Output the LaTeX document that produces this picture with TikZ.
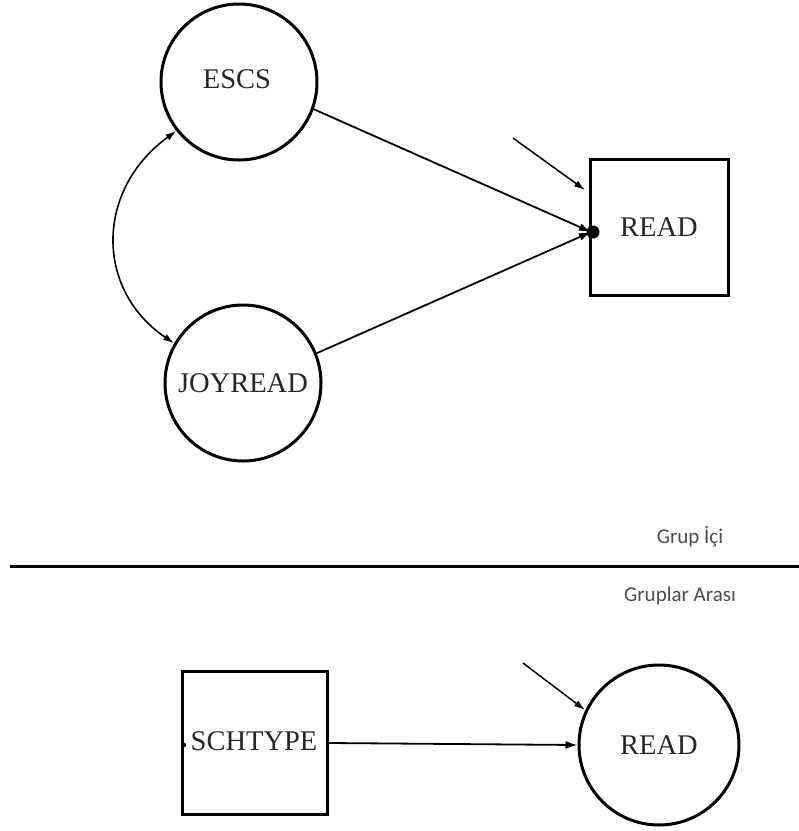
\documentclass[tikz,border=0pt]{standalone}
\usepackage{fontspec}
\setmainfont{Liberation Serif}
\newfontfamily\labfont{Carlito}
\usetikzlibrary{arrows.meta}
\begin{document}
\begin{tikzpicture}[x=1pt,y=-1pt,
  nodefont/.style={font=\fontsize{28.5}{30}\selectfont,text=black!85},
  var/.style={draw,line width=3pt,circle,minimum size=156pt,inner sep=0pt,nodefont},
  obs/.style={draw,line width=3pt,rectangle,inner sep=0pt,nodefont},
  arr/.style={line width=1.8pt,-{Latex[length=12pt,width=8pt]}},
  resid/.style={line width=1.5pt,-{Latex[length=11pt,width=7pt]}},
  lab/.style={font=\labfont\fontsize{21}{24}\selectfont,text=black!70}]
\useasboundingbox (0,0) rectangle (799,831);
% top part
\node[var] (escs) at (239,82) {};
\node[nodefont] (escst) at (237,79) {ESCS};
\node[var] (joy) at (243,383) {JOYREAD};
\node[obs,minimum width=138pt,minimum height=136pt] (read1) at (659,227) {READ};
\fill (593,232) circle (6.5pt);
\coordinate (dot) at (591,232);
\draw[arr] (escs.-20) -- (dot);
\draw[arr] (joy.22) -- (dot);
\coordinate (r1s) at (513,138);
\coordinate (r1e) at (585,190);
\draw[resid] (r1s) -- (r1e);
\draw[line width=1.6pt,{Latex[length=11pt,width=7pt]}-{Latex[length=11pt,width=7pt]}] (escs.218) .. controls (95,190) and (95,290) .. (joy.150);
% separator
\coordinate (la) at (10,566);
\coordinate (lb) at (799,566);
\draw[line width=3pt] (la) -- (lb);
\node[lab] (gi) at (690,537) {Grup İçi};
\node[lab] (ga) at (680,596) {Gruplar Arası};
% bottom part
\node[obs,minimum width=145pt,minimum height=143pt] (sch) at (255,743) {};
\node[nodefont] (scht) at (254,741) {SCHTYPE};
\fill (184,745) circle (2.2pt);
\node[var,minimum size=160pt] (read2) at (659,745) {READ};
\draw[arr] (sch.east) -- (read2.west);
\coordinate (r2s) at (523,663);
\coordinate (r2e) at (585,710);
\draw[resid] (r2s) -- (r2e);
\end{tikzpicture}
\end{document}
